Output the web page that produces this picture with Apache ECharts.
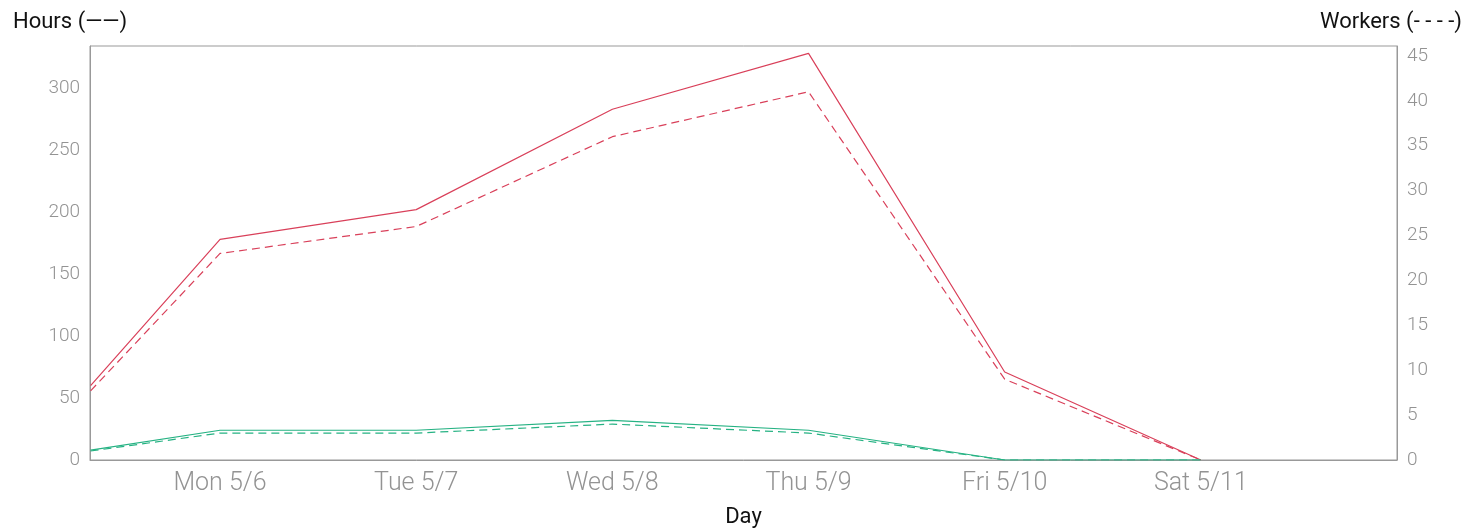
<!DOCTYPE html>
<html>
<head>
<meta charset="utf-8">
<script src="https://cdn.jsdelivr.net/npm/echarts@6/dist/echarts.min.js"></script>
<style>html,body{margin:0;padding:0;background:#fff}#c{width:1484px;height:530px}</style>
</head>
<body>
<div id="c"></div>
<script>
// x in days relative to Mon 5/6 (first sample is on Sunday morning)
const xDays = [-0.66, 0, 1, 2, 3, 4, 5];
const dayTicks = [0, 1, 2, 3, 4, 5];
const dayLabels = ['Mon 5/6', 'Tue 5/7', 'Wed 5/8', 'Thu 5/9', 'Fri 5/10', 'Sat 5/11'];

const redHours = [60, 178, 202, 283, 328, 71, 0];
const redWorkers = [7.7, 23, 26, 36, 41, 9, 0];
const greenHours = [8, 24, 24, 32, 24, 0, 0];
const greenWorkers = [1, 3, 3, 4, 3, 0, 0];

const hoursTitle = 'Hours (——)';
const workersTitle = 'Workers (- - - -)';
const xTitle = 'Day';

const RED = '#d9405a';
const GREEN = '#26b283';

function pairs(vals) { return vals.map((v, i) => [xDays[i], v]); }

const chart = echarts.init(document.getElementById('c'));
const tickFont = { fontFamily: 'Roboto', fontWeight: 300, color: '#939393' };
chart.setOption({
  animation: false,
  title: [
    { text: hoursTitle, left: 8, top: 6, textStyle: { fontFamily: 'Roboto', fontWeight: 400, fontSize: 22, color: '#111' } },
    { text: workersTitle, right: 17, top: 6, textStyle: { fontFamily: 'Roboto', fontWeight: 400, fontSize: 22, color: '#111' } }
  ],
  grid: { left: 90, right: 87, top: 46, bottom: 70, show: true, borderColor: '#999', borderWidth: 1,
          containLabel: false, outerBoundsMode: 'none' },
  xAxis: {
    type: 'value', min: -0.663, max: 6,
    name: xTitle, nameLocation: 'middle', nameGap: 46,
    nameTextStyle: { fontFamily: 'Roboto', fontSize: 22, color: '#111' },
    axisLine: { onZero: false, lineStyle: { color: '#999' } },
    axisTick: { show: false },
    splitLine: { show: false },
    axisLabel: Object.assign({ fontSize: 25, margin: 11, customValues: dayTicks,
      formatter: v => dayLabels[dayTicks.indexOf(Math.round(v))] || '' }, tickFont)
  },
  yAxis: [
    { type: 'value', min: 0, max: 334, interval: 50, position: 'left',
      axisLine: { show: true, onZero: false, lineStyle: { color: '#999' } }, axisTick: { show: false }, splitLine: { show: false },
      axisLabel: Object.assign({ fontSize: 19, margin: 10, showMaxLabel: false }, tickFont) },
    { type: 'value', min: 0, max: 46.1, interval: 5, position: 'right',
      axisLine: { show: true, onZero: false, lineStyle: { color: '#999' } }, axisTick: { show: false }, splitLine: { show: false },
      axisLabel: Object.assign({ fontSize: 19, margin: 10, showMaxLabel: false }, tickFont) }
  ],
  series: [
    { type: 'line', yAxisIndex: 0, data: pairs(redHours), showSymbol: false, lineStyle: { color: RED, width: 1.2 } },
    { type: 'line', yAxisIndex: 1, data: pairs(redWorkers), showSymbol: false, lineStyle: { color: RED, width: 1.2, type: [8, 5] } },
    { type: 'line', yAxisIndex: 0, data: pairs(greenHours), showSymbol: false, lineStyle: { color: GREEN, width: 1.2 } },
    { type: 'line', yAxisIndex: 1, data: pairs(greenWorkers), showSymbol: false, lineStyle: { color: GREEN, width: 1.2, type: [8, 5] } }
  ]
});
</script>
</body>
</html>
